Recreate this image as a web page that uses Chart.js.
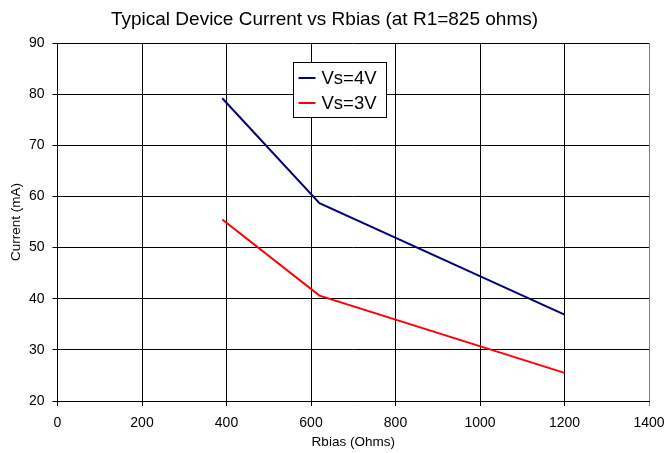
<!DOCTYPE html>
<html>
<head>
<meta charset="utf-8">
<script src="https://cdn.jsdelivr.net/npm/chart.js@4/dist/chart.umd.min.js"></script>
<style>
  body { margin: 0; background: #fff; }
  canvas { display: block; }
</style>
</head>
<body>
<canvas id="currentChart" width="666" height="453"></canvas>
<script>
// values
const rbias = [390, 620, 1200];
const vs4 = [79.2, 58.7, 36.9];
const vs3 = [55.5, 40.6, 25.5];
const seriesLabels = ['Vs=4V', 'Vs=3V'];
const seriesColors = ['#000080', '#ff0000'];

const FONT = "'Liberation Sans', Arial, sans-serif";

function toPoints(xs, ys) {
    return xs.map((x, i) => ({ x: x, y: ys[i] }));
}

// boxed legend sitting inside the plot, like the Excel one
const boxLegend = {
    id: 'boxLegend',
    afterDraw(chart) {
        const ctx = chart.ctx;
        const x = 293.5, y = 62.5, w = 93, h = 55;
        ctx.save();
        ctx.fillStyle = '#fff';
        ctx.fillRect(x, y, w, h);
        ctx.strokeStyle = '#000';
        ctx.lineWidth = 1;
        ctx.strokeRect(x, y, w, h);
        ctx.font = '18.5px ' + FONT;
        ctx.textBaseline = 'middle';
        chart.data.datasets.forEach((ds, i) => {
            const ly = y + 15.5 + i * 25;
            ctx.strokeStyle = ds.borderColor;
            ctx.lineWidth = 2;
            ctx.beginPath();
            ctx.moveTo(x + 5, ly);
            ctx.lineTo(x + 22, ly);
            ctx.stroke();
            ctx.fillStyle = '#000';
            ctx.fillText(ds.label, x + 28, ly + 1);
        });
        ctx.restore();
    }
};

const ctx = document.getElementById('currentChart').getContext('2d');
new Chart(ctx, {
    type: 'scatter',
    data: {
        datasets: [
            {
                label: seriesLabels[0],
                data: toPoints(rbias, vs4),
                borderColor: seriesColors[0],
                backgroundColor: seriesColors[0],
                showLine: true,
                borderWidth: 2,
                pointRadius: 0,
            },
            {
                label: seriesLabels[1],
                data: toPoints(rbias, vs3),
                borderColor: seriesColors[1],
                backgroundColor: seriesColors[1],
                showLine: true,
                borderWidth: 2,
                pointRadius: 0,
            },
        ],
    },
    options: {
        responsive: false,
        animation: false,
        layout: { padding: { left: 0, right: 17, top: 0, bottom: 0 } },
        plugins: {
            legend: { display: false },
            tooltip: { enabled: false },
            title: {
                display: true,
                text: 'Typical Device Current vs Rbias (at R1=825 ohms)',
                color: '#000',
                font: { family: FONT, size: 19, weight: 'normal' },
                padding: { top: 8, bottom: 12.2 },
            },
        },
        scales: {
            x: {
                type: 'linear',
                min: 0,
                max: 1400,
                ticks: {
                    stepSize: 200,
                    color: '#000',
                    font: { family: FONT, size: 14 },
                    padding: 9,
                    callback: (v) => String(v),
                },
                grid: {
                    color: (c) => c.index === 7 ? '#808080' : '#000',
                    tickLength: 5,
                },
                border: { color: '#000' },
                title: {
                    display: true,
                    text: 'Rbias (Ohms)',
                    color: '#000',
                    font: { family: FONT, size: 13.5 },
                    padding: { top: 0, bottom: 3 },
                },
                afterFit: (scale) => {
                    scale.height = 52;
                    scale.paddingRight = 0;
                    scale.paddingLeft = 0;
                },
            },
            y: {
                min: 20,
                max: 90,
                ticks: {
                    stepSize: 10,
                    color: '#000',
                    font: { family: FONT, size: 14 },
                    padding: 8,
                    callback: (v) => String(v),
                },
                grid: { color: '#000', tickLength: 5 },
                border: { color: '#000' },
                title: {
                    display: true,
                    text: 'Current (mA)',
                    color: '#000',
                    font: { family: FONT, size: 13.5 },
                    padding: { top: 8, bottom: 0 },
                },
                afterFit: (scale) => { scale.width = 57.5; },
            },
        },
    },
    plugins: [boxLegend],
});
</script>
</body>
</html>
